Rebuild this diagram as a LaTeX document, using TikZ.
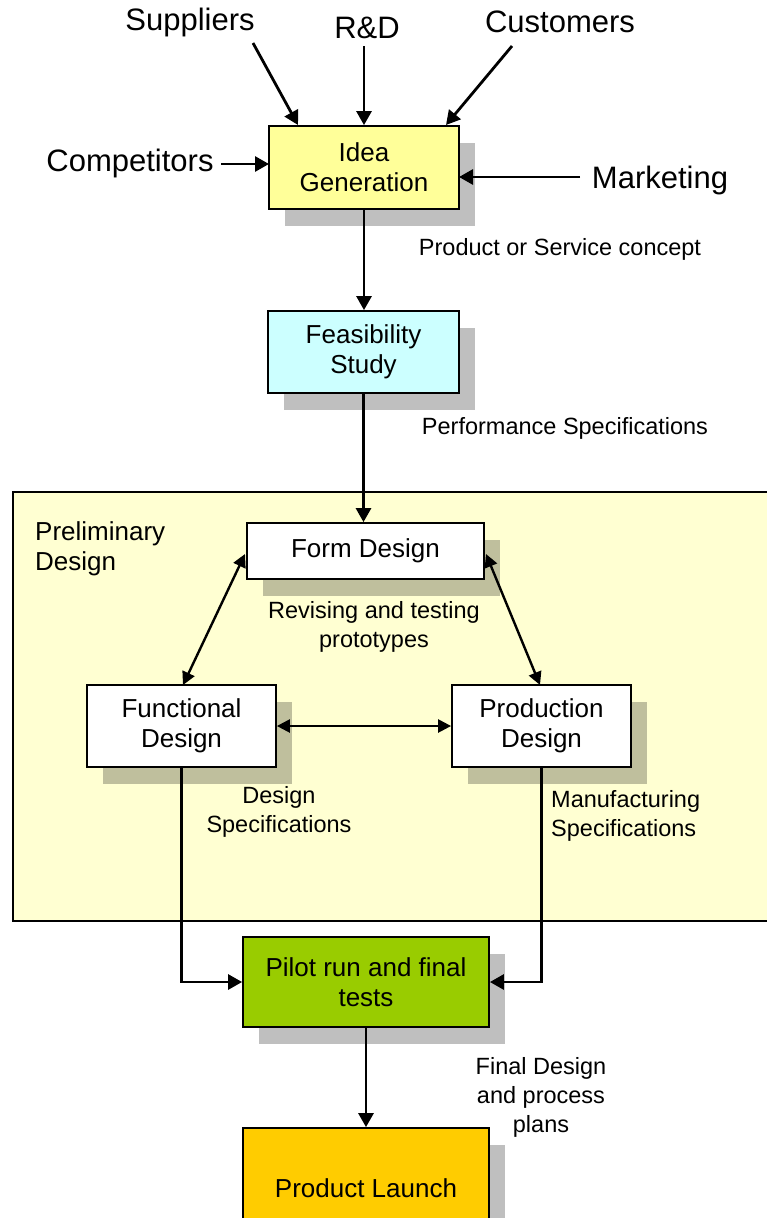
\documentclass[tikz,border=0pt]{standalone}
\usepackage{fontspec}
\setmainfont{Liberation Sans}
\usetikzlibrary{arrows.meta,shadows}

\definecolor{ideafill}{HTML}{FFFF99}
\definecolor{feasfill}{HTML}{CCFFFF}
\definecolor{prelimfill}{HTML}{FFFFD2}
\definecolor{pilotfill}{HTML}{99CC00}
\definecolor{launchfill}{HTML}{FFCC00}

\newcommand{\outerlbl}{\fontsize{31}{36}\selectfont}
\newcommand{\boxtxt}{\fontsize{26}{30}\selectfont}
\newcommand{\smalltxt}{\fontsize{23.5}{29}\selectfont}

\tikzset{
  stagebox/.style={draw, line width=1.8pt, inner sep=0pt, align=center,
    font=\boxtxt,
    drop shadow={shadow xshift=16pt, shadow yshift=-17pt, fill=black, opacity=0.25}},
  flow/.style={line width=2.8pt, -{Triangle[length=14pt,width=15pt]}},
  twoway/.style={line width=2.4pt, {Triangle[length=13pt,width=13pt]}-{Triangle[length=13pt,width=13pt]}},
  inlabel/.style={font=\outerlbl, inner sep=0pt},
  note/.style={font=\smalltxt, inner sep=0pt, align=center}
}

\begin{document}
\begin{tikzpicture}[x=1pt, y=-1pt]
\useasboundingbox (0,0) rectangle (766,1218);

% Preliminary design region
\draw[fill=prelimfill, line width=1.5pt] (13,492) rectangle (775,921);
\node[font=\boxtxt, align=left, anchor=west, inner sep=0pt] (prelim) at (35,549) {Preliminary\\Design};

% Stage boxes
\node[stagebox, fill=ideafill, minimum width=190pt, minimum height=83pt] (idea) at (364,167.5) {Idea\\Generation};
\node[stagebox, fill=feasfill, minimum width=191pt, minimum height=82pt] (feas) at (363.5,352) {Feasibility\\Study};
\node[stagebox, fill=white, minimum width=237pt, minimum height=56pt] (form) at (365.5,551) {Form Design};
\node[stagebox, fill=white, minimum width=189pt, minimum height=82pt] (func) at (181.5,726) {Functional\\Design};
\node[stagebox, fill=white, minimum width=179pt, minimum height=82pt] (prod) at (541.5,726) {Production\\Design};
\node[stagebox, fill=pilotfill, minimum width=246pt, minimum height=90pt] (pilot) at (366,982) {Pilot run and final\\tests};
\node[stagebox, fill=launchfill, minimum width=246pt, minimum height=120pt] (launch) at (366,1188) {Product Launch};

% Sources of ideas
\node[inlabel] (sup) at (190,22) {Suppliers};
\node[inlabel] (rnd) at (367,28) {R\&D};
\node[inlabel] (cust) at (560,22) {Customers};
\node[inlabel] (comp) at (130,163) {Competitors};
\node[inlabel] (mkt) at (660,180) {Marketing};

\coordinate (supS) at (253,43);
\coordinate (supE) at (298,125);
\coordinate (rndS) at (364,46);
\coordinate (custS) at (512,46);
\coordinate (custE) at (446,125);
\coordinate (compS) at (221,164);
\coordinate (compE) at (269,164);
\coordinate (mktS) at (580,177);
\coordinate (mktE) at (459,177);

\draw[flow] (supS) -- (supE);
\draw[flow] (rndS) -- (idea.north);
\draw[flow] (custS) -- (custE);
\draw[flow] (compS) -- (compE);
\draw[flow] (mktS) -- (mktE);

% Main flow
\draw[flow] (idea.south) -- (feas.north -| idea.south);
\draw[flow] (feas.south) -- (form.north -| feas.south);

\coordinate (formL) at (245,554);
\coordinate (funcT) at (183,685);
\coordinate (formR) at (486,554);
\coordinate (prodT) at (540,685);
\draw[twoway] (formL) -- (funcT);
\draw[twoway] (formR) -- (prodT);
\draw[twoway] (func.east) -- (prod.west);

\draw[flow] (func.south) |- (pilot.west);
\draw[flow] (prod.south) |- (pilot.east);
\draw[flow] (pilot.south) -- (launch.north);

% Outputs of each stage
\node[note] (n1) at (560,249) {Product or Service concept};
\node[note] (n2) at (565,428) {Performance Specifications};
\node[note] (n3) at (374,626.5) {Revising and testing\\prototypes};
\node[note] (n4) at (279,811.5) {Design\\Specifications};
\node[note, align=left, anchor=west] (n5) at (551,816) {Manufacturing\\Specifications};
\node[note] (n6) at (541,1097) {Final Design\\and process\\plans};
\end{tikzpicture}
\end{document}
